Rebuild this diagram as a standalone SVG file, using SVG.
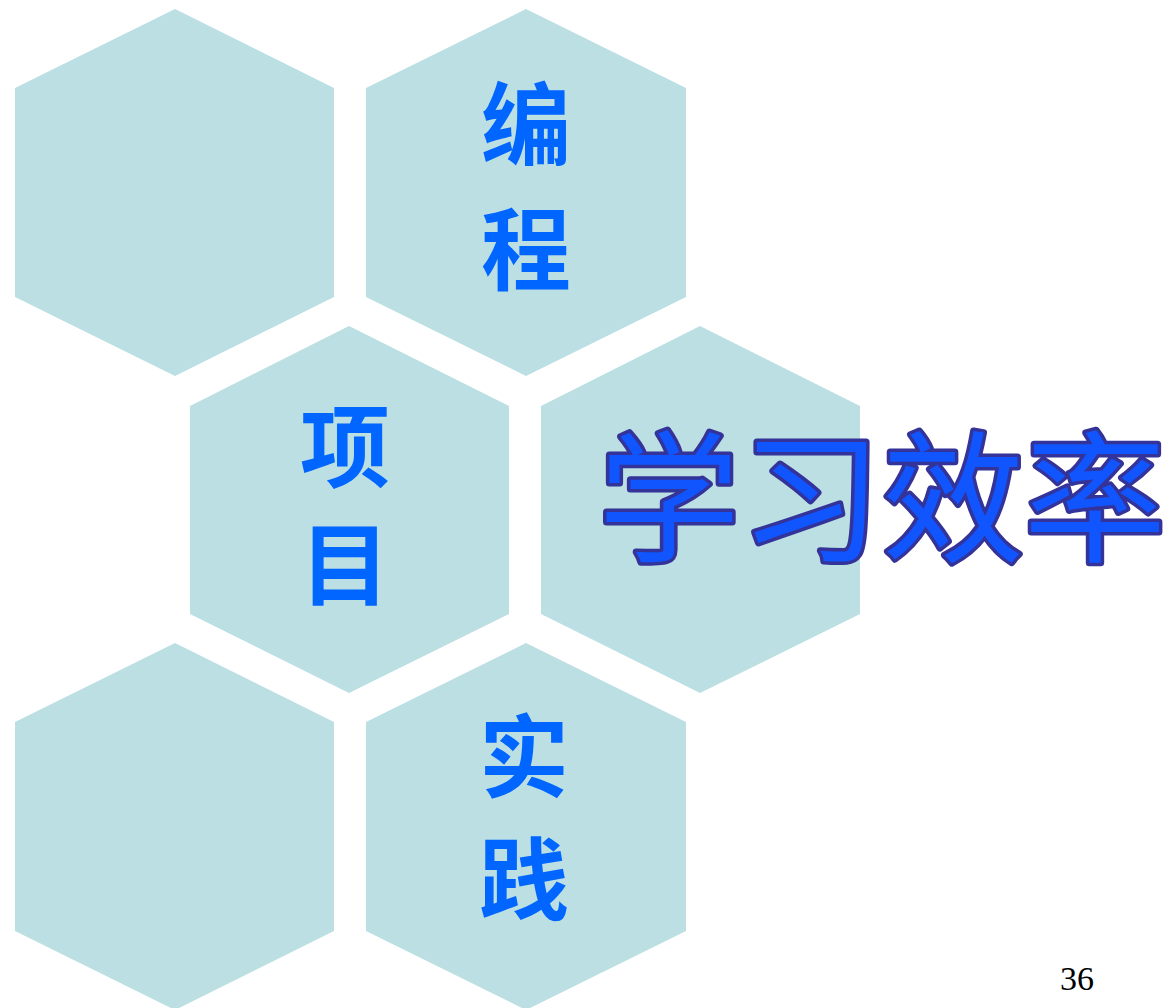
<svg xmlns="http://www.w3.org/2000/svg" width="1168" height="1008" viewBox="0 0 1168 1008">
<style>
.hex{fill:#BBDFE3}
.v{font-family:"Noto Sans CJK SC","Noto Sans CJK JP",sans-serif;font-size:90px;font-weight:bold;fill:#0066FF;text-anchor:middle}
.t{font-family:"Noto Sans CJK SC","Noto Sans CJK JP",sans-serif;font-size:142px;font-weight:normal;fill:#1155FF;stroke:#333399;stroke-width:7;paint-order:stroke fill;stroke-linejoin:round}
.n{font-family:"Liberation Serif",serif;font-size:34px;fill:#000}
</style>
<rect width="1168" height="1008" fill="#fff"/>
<g id="hex1"><polygon class="hex" points="175,9 334,88 334,297 175,376 15,297 15,88"/></g>
<g id="hex2"><polygon class="hex" points="526,9 686,88 686,297 526,376 366,297 366,88"/>
<text class="v" x="526" y="158">编<tspan x="526" dy="125">程</tspan></text></g>
<g id="hex3"><polygon class="hex" points="349,326 509,406 509,614 349,693 190,614 190,406"/>
<text class="v" x="345" y="480">项<tspan x="345" dy="118">目</tspan></text></g>
<g id="hex4"><polygon class="hex" points="700,326 860,406 860,614 700,693 541,614 541,406"/></g>
<g id="hex5"><polygon class="hex" points="175,643 334,722 334,931 175,1010 15,931 15,722"/></g>
<g id="hex6"><polygon class="hex" points="526,643 686,722 686,931 526,1010 366,931 366,722"/>
<text class="v" x="524" y="790">实<tspan x="524" dy="123">践</tspan></text></g>
<g id="title"><text class="t" x="598" y="551">学习效率</text></g>
<g id="connectors"/>
<text class="n" x="1060" y="990">36</text>
</svg>
